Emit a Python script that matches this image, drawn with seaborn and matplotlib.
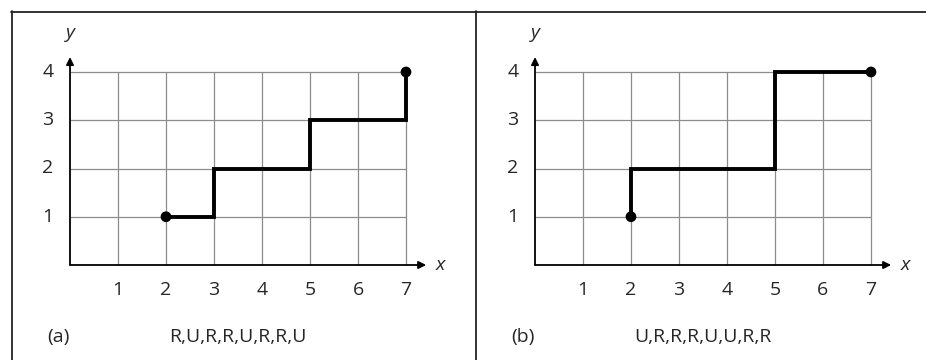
"""Two lattice paths on a 7x4 grid, drawn from their move sequences."""

import matplotlib
matplotlib.use("Agg")
import matplotlib.pyplot as plt
from matplotlib.lines import Line2D
import pandas as pd
import seaborn as sns

# --- data ---
panel_tags = ["(a)", "(b)"]
start_points = [(2, 1), (2, 1)]
move_sequences = [
    ["R", "U", "R", "R", "U", "R", "R", "U"],
    ["U", "R", "R", "R", "U", "U", "R", "R"],
]
x_ticks = [1, 2, 3, 4, 5, 6, 7]
y_ticks = [1, 2, 3, 4]

W, H = 926, 360
UX, UY = 48.0, 48.25          # pixels per grid unit
ORIGINS = [(70, 265), (535, 265)]  # origin pixel (x, y from top)
XLIM = (-1.0, 8.2)
YLIM = (-1.9, 5.2)

GRID = "#8c8c8c"
TXT = "#262626"
FS = 14


def walk(start, moves):
    xs, ys = [start[0]], [start[1]]
    for m in moves:
        if m == "R":
            xs.append(xs[-1] + 1)
            ys.append(ys[-1])
        else:
            xs.append(xs[-1])
            ys.append(ys[-1] + 1)
    return pd.DataFrame({"x": xs, "y": ys})


sns.set_theme(style="white")
plt.rcParams["font.family"] = ["Open Sans", "DejaVu Sans"]

fig = plt.figure(figsize=(W / 100, H / 100), dpi=100)

# frame lines (top, left, middle divider)
def fig_line(x0, y0, x1, y1, lw=1.3):
    fig.add_artist(Line2D([x0 / W, x1 / W], [1 - y0 / H, 1 - y1 / H],
                          transform=fig.transFigure, color="#222222", lw=lw))

fig_line(11, 11.5, W, 11.5)
fig_line(11.5, 11, 11.5, H)
fig_line(476.5, 11, 476.5, H)

for (ox, oy), tag, start, moves in zip(ORIGINS, panel_tags, start_points, move_sequences):
    left = ox + XLIM[0] * UX
    width = (XLIM[1] - XLIM[0]) * UX
    top = oy - YLIM[1] * UY
    height = (YLIM[1] - YLIM[0]) * UY
    ax = fig.add_axes([left / W, 1 - (top + height) / H, width / W, height / H])
    ax.set_xlim(*XLIM)
    ax.set_ylim(*YLIM)

    # grid
    ax.vlines(x_ticks, 0, max(y_ticks), color=GRID, lw=0.9, zorder=1)
    ax.hlines(y_ticks, 0, max(x_ticks), color=GRID, lw=0.9, zorder=1)

    # axes with arrows
    ax.annotate("", xy=(7.42, 0), xytext=(0, 0),
                arrowprops=dict(arrowstyle="-|>", lw=1.3, color="black",
                                mutation_scale=11, shrinkA=0, shrinkB=0), zorder=2)
    ax.annotate("", xy=(0, 4.31), xytext=(0, 0),
                arrowprops=dict(arrowstyle="-|>", lw=1.3, color="black",
                                mutation_scale=11, shrinkA=0, shrinkB=0), zorder=2)
    ax.text(7.72, 0, "x", style="italic", fontsize=FS, color=TXT,
            ha="center", va="center")
    ax.text(0, 4.8, "y", style="italic", fontsize=FS, color=TXT,
            ha="center", va="center")

    for t in x_ticks:
        ax.text(t, -0.52, str(t), fontsize=FS, color=TXT, ha="center", va="center")
    for t in y_ticks:
        ax.text(-0.46, t, str(t), fontsize=FS, color=TXT, ha="center", va="center")

    # path
    path = walk(start, moves)
    sns.lineplot(data=path, x="x", y="y", sort=False, estimator=None,
                 color="black", lw=2.8, ax=ax, zorder=3,
                 solid_joinstyle="miter", solid_capstyle="butt")
    ends = path.iloc[[0, -1]]
    sns.scatterplot(data=ends, x="x", y="y", color="black", s=60,
                    edgecolor="none", ax=ax, zorder=4, clip_on=False)
    ax.axis("off")

    ax.text(-0.25, -1.49, tag, fontsize=FS, color=TXT, ha="center", va="center")
    ax.text(3.5, -1.49, ",".join(moves), fontsize=FS, color=TXT,
            ha="center", va="center")

fig.savefig("out.png", dpi=100)
